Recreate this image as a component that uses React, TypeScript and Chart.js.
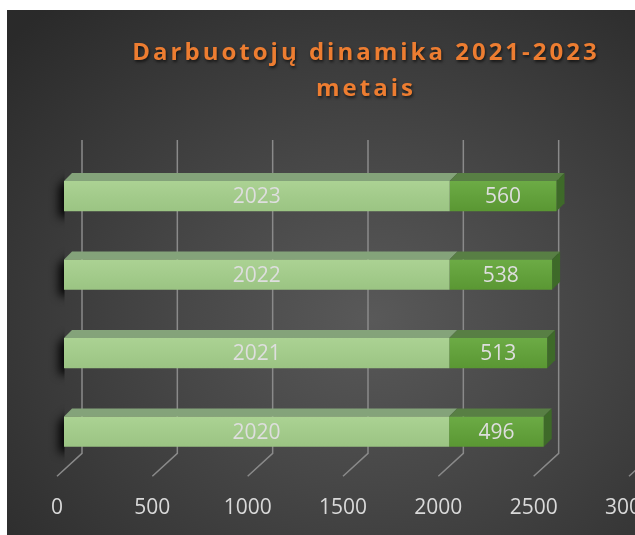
import React, { useEffect, useRef } from 'react';
import { Chart, registerables } from 'chart.js';

Chart.register(...registerables);

const categories = ['2020', '2021', '2022', '2023'];
const yearValues = [2020, 2021, 2022, 2023];
const employeeValues = [496, 513, 538, 560];
const xMin = 0;
const xMax = 3000;
const xStep = 500;
const titleLines = ['Darbuotojų dinamika 2021-2023', 'metais'];

const FONT = '"Open Sans", "DejaVu Sans", sans-serif';
const DEPTH = 8;

const frontColors = [
  ['#abd293', '#9bc483'],
  ['#6cab45', '#5a9733'],
];
const topColors = ['#84a37a', '#587f44'];
const sideColor = '#3e6a29';

function barGeom(chart: any, dsIndex: number, i: number) {
  const el: any = chart.getDatasetMeta(dsIndex).data[i];
  const p = el.getProps(['x', 'y', 'base', 'height'], true);
  const x0 = Math.min(p.x, p.base);
  const x1 = Math.max(p.x, p.base);
  return { x0, x1, yTop: p.y - p.height / 2, yBot: p.y + p.height / 2, yc: p.y };
}

const bar3dPlugin = {
  id: 'bar3d',
  beforeDatasetsDraw(chart: any) {
    const ctx = chart.ctx;
    const { top, bottom } = chart.chartArea;
    const xs = chart.scales.x;
    ctx.save();
    ctx.strokeStyle = '#8a8a8a';
    ctx.lineWidth = 1.5;
    const wallTop = top - 17;
    const wallBottom = bottom - 17.5;
    const floorFront = bottom + 5.5;
    for (let v = xMin; v <= xMax; v += xStep) {
      const px = xs.getPixelForValue(v);
      ctx.beginPath();
      ctx.moveTo(px + 18, wallTop);
      ctx.lineTo(px + 18, wallBottom);
      ctx.lineTo(px - 7, floorFront);
      ctx.stroke();
    }
    ctx.restore();

    const n = categories.length;
    for (let i = 0; i < n; i++) {
      const a = barGeom(chart, 0, i);
      const b = barGeom(chart, 1, i);
      ctx.save();
      ctx.beginPath();
      ctx.rect(0, 0, a.x0 + 0.5, chart.height);
      ctx.clip();
      ctx.shadowColor = 'rgba(0,0,0,0.95)';
      ctx.shadowBlur = 10;
      ctx.shadowOffsetX = -5;
      ctx.shadowOffsetY = 6;
      ctx.fillStyle = '#111';
      ctx.beginPath();
      ctx.moveTo(a.x0, a.yBot);
      ctx.lineTo(a.x0, a.yTop);
      ctx.lineTo(a.x0 + DEPTH, a.yTop - DEPTH);
      ctx.lineTo(b.x1 + DEPTH, a.yTop - DEPTH);
      ctx.lineTo(b.x1, a.yBot);
      ctx.closePath();
      ctx.fill();
      ctx.restore();

      [a, b].forEach((g, k) => {
        ctx.save();
        ctx.fillStyle = topColors[k];
        ctx.beginPath();
        ctx.moveTo(g.x0, g.yTop);
        ctx.lineTo(g.x0 + DEPTH, g.yTop - DEPTH);
        ctx.lineTo(g.x1 + DEPTH, g.yTop - DEPTH);
        ctx.lineTo(g.x1, g.yTop);
        ctx.closePath();
        ctx.fill();
        ctx.restore();
      });
      ctx.save();
      ctx.fillStyle = sideColor;
      ctx.beginPath();
      ctx.moveTo(b.x1, b.yTop);
      ctx.lineTo(b.x1 + DEPTH, b.yTop - DEPTH);
      ctx.lineTo(b.x1 + DEPTH, b.yBot - DEPTH);
      ctx.lineTo(b.x1, b.yBot);
      ctx.closePath();
      ctx.fill();
      ctx.restore();
    }
  },
  afterDatasetsDraw(chart: any) {
    const ctx = chart.ctx;
    ctx.save();
    ctx.font = `21px ${FONT}`;
    ctx.fillStyle = '#dedede';
    ctx.textAlign = 'center';
    ctx.textBaseline = 'middle';
    for (let i = 0; i < categories.length; i++) {
      const a = barGeom(chart, 0, i);
      const b = barGeom(chart, 1, i);
      ctx.fillText(categories[i], (a.x0 + a.x1) / 2, a.yc + 1);
      ctx.fillText(String(employeeValues[i]), (b.x0 + b.x1) / 2, b.yc + 1);
    }
    ctx.restore();
  },
  afterDraw(chart: any) {
    const ctx = chart.ctx;
    ctx.save();
    ctx.font = `bold 24px ${FONT}`;
    (ctx as any).letterSpacing = '3px';
    ctx.fillStyle = '#ed7d31';
    ctx.textAlign = 'center';
    ctx.textBaseline = 'alphabetic';
    ctx.shadowColor = 'rgba(0,0,0,0.6)';
    ctx.shadowBlur = 3;
    ctx.shadowOffsetX = 1;
    ctx.shadowOffsetY = 2;
    ctx.fillText(titleLines[0], 359, 50);
    ctx.fillText(titleLines[1], 359, 86);
    ctx.restore();
  },
};

export default function App() {
  const ref = useRef<HTMLCanvasElement | null>(null);
  useEffect(() => {
    if (!ref.current) return;
    const grad = (k: number) => (c: any) => {
      const chart = c.chart;
      const ys = chart.scales?.y;
      if (!ys || !chart.chartArea) return frontColors[k][0];
      const yc = ys.getPixelForValue(c.dataIndex);
      const g = chart.ctx.createLinearGradient(0, yc - 15, 0, yc + 15);
      g.addColorStop(0, frontColors[k][0]);
      g.addColorStop(1, frontColors[k][1]);
      return g;
    };
    const chart = new Chart(ref.current, {
      type: 'bar',
      data: {
        labels: categories,
        datasets: [
          {
            label: 'Metai',
            data: yearValues,
            backgroundColor: grad(0),
            borderWidth: 0,
            barPercentage: 0.385,
            categoryPercentage: 1,
          },
          {
            label: 'Darbuotojai',
            data: employeeValues,
            backgroundColor: grad(1),
            borderWidth: 0,
            barPercentage: 0.385,
            categoryPercentage: 1,
          },
        ],
      },
      options: {
        indexAxis: 'y',
        animation: false,
        responsive: false,
        layout: { padding: { left: 57, right: 71, top: 147, bottom: 15 } },
        plugins: {
          legend: { display: false },
          title: { display: false },
          tooltip: { enabled: false },
        },
        scales: {
          x: {
            stacked: true,
            min: xMin,
            max: xMax,
            grid: { display: false, drawTicks: false },
            border: { display: false },
            ticks: {
              stepSize: xStep,
              color: '#d9d9d9',
              font: { family: FONT, size: 21 },
              labelOffset: -7,
              padding: 25,
              callback: (v: any) => String(v),
            },
          },
          y: {
            stacked: true,
            reverse: true,
            display: false,
          },
        },
      },
      plugins: [bar3dPlugin],
    });
    return () => chart.destroy();
  }, []);
  return (
    <div
      style={{
        position: 'fixed',
        left: 7,
        top: 10,
        width: 700,
        height: 551,
        background:
          'radial-gradient(ellipse 70% 75% at 52% 56%, #595959 0%, #474747 40%, #2a2a2a 100%)',
      }}
    >
      <canvas ref={ref} width={700} height={551} style={{ display: 'block' }} />
    </div>
  );
}
